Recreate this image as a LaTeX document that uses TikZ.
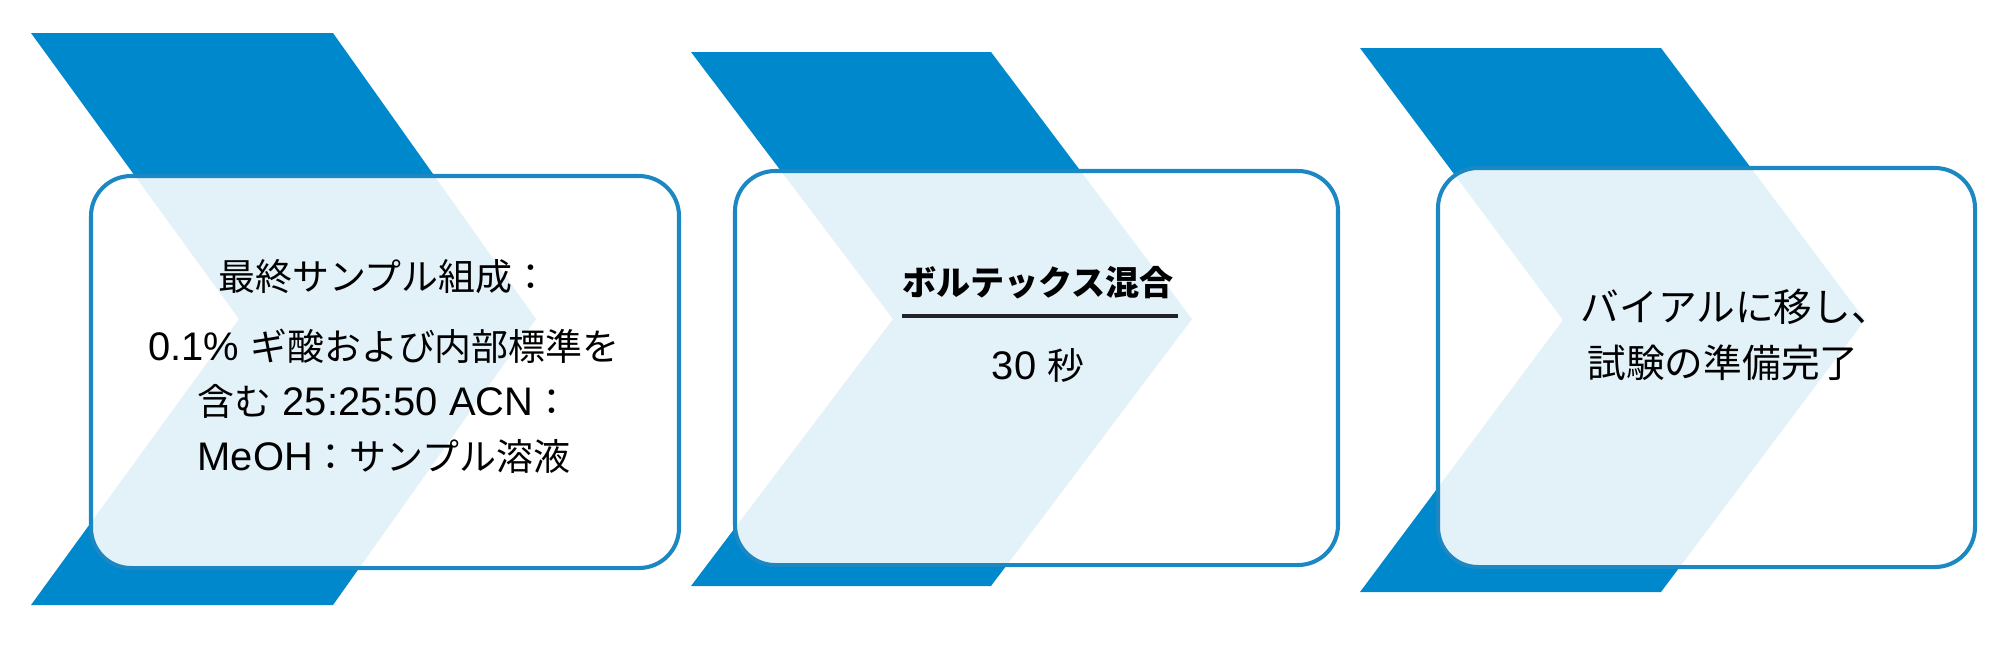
\documentclass[tikz,border=0pt]{standalone}
\usepackage{fontspec}
\setmainfont{Liberation Sans}[Scale=1.08]
\newfontfamily\jp{Noto Sans CJK JP}
\usetikzlibrary{positioning}

\definecolor{chevblue}{RGB}{0,136,204}
\definecolor{boxline}{RGB}{27,135,195}
\definecolor{ruleink}{RGB}{34,34,40}

\tikzset{
  chevron/.style={fill=chevblue, draw=none},
  stepbox/.style={draw=boxline, line width=1.15pt, fill=white, fill opacity=0.89, rounded corners=0.4cm},
  steptext/.style={font=\fontsize{10.5}{15.7}\selectfont, align=center, inner sep=0pt},
}

\begin{document}
\begin{tikzpicture}[x=0.01cm, y=-0.01cm]
			\useasboundingbox (0,0) rectangle (2000,644);
			
			%%%%% CHEVRONS %%%%%
			\fill[chevron] (31,33) -- (333,33) -- (536,319) -- (333,605) -- (31,605) -- (239,319) -- cycle;
			\fill[chevron] (691,52) -- (991,52) -- (1192,319) -- (991,586) -- (691,586) -- (893,319) -- cycle;
			\fill[chevron] (1360,48) -- (1661,48) -- (1865,320) -- (1661,592) -- (1360,592) -- (1563,320) -- cycle;
			
			%%%%% BOXES %%%%%
			\draw[stepbox] (91,176) rectangle (679,568);
			\draw[stepbox] (735,171) rectangle (1338,565);
			\draw[stepbox] (1438,168) rectangle (1975,567);
			
			%%%%% STEP 1 %%%%%
			\node[steptext] (comphead) at (384,277) {\jp 最終サンプル組成：};
			\node[steptext] (compbody) at (384,401) {0.1\% {\jp ギ酸および内部標準を}\\
				{\jp 含む} 25:25:50 ACN{\jp ：}\\
				MeOH{\jp ：サンプル溶液}};
			
			%%%%% STEP 2 %%%%%
			\node[steptext, font=\fontsize{9.7}{12}\selectfont\bfseries] (vortex) at (1038,283) {\jp ボルテックス混合};
			\coordinate (rulel) at (902,316);
			\coordinate (ruler) at (1178,316);
			\draw[ruleink, line width=1pt] (rulel) -- (ruler);
			\node[steptext] (vortime) at (1038,365) {30 {\jp 秒}};
			
			%%%%% STEP 3 %%%%%
			\node[steptext, font=\fontsize{11}{13}\selectfont, anchor=west] (vial) at (1580,307) {\jp バイアルに移し、};
			\node[steptext, font=\fontsize{11}{13}\selectfont] (ready) at (1723,363) {\jp 試験の準備完了};
			
			%%%%% END %%%%%
\end{tikzpicture}
\end{document}
